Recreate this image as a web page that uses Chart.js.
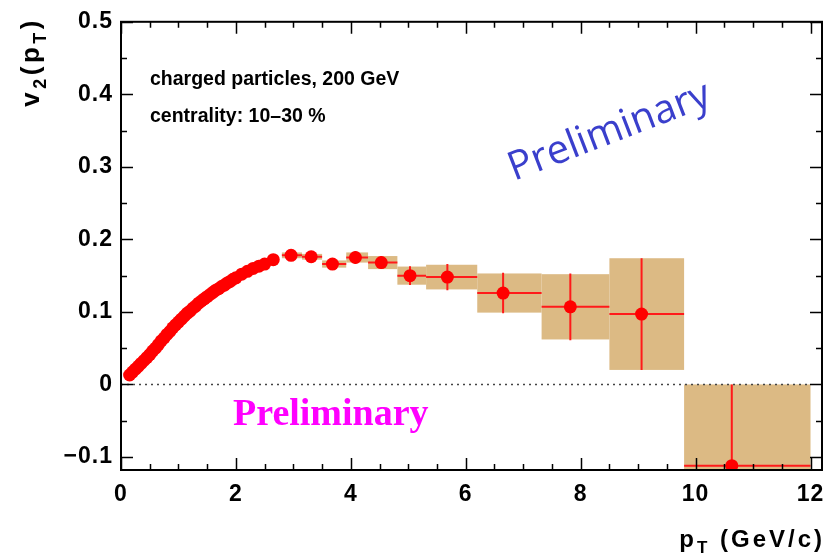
<!DOCTYPE html>
<html>
<head>
<meta charset="utf-8">
<script src="https://cdn.jsdelivr.net/npm/chart.js@4"></script>
<style>
  html, body { margin: 0; padding: 0; background: #fff; }
  canvas { display: block; }
</style>
</head>
<body>
<canvas id="myChart" width="838" height="560"></canvas>
<script>
// v2(pT) charged particles 200 GeV, 10-30 %

// low pT, dense points
const ptLow = [0.15, 0.2, 0.25, 0.3, 0.35, 0.4, 0.45, 0.5, 0.55, 0.6, 0.65, 0.7, 0.75, 0.8, 0.85, 0.9,
  0.95, 1.0, 1.05, 1.1, 1.15, 1.2, 1.25, 1.3, 1.35, 1.4, 1.45, 1.5, 1.55, 1.6, 1.65, 1.7, 1.75,
  1.8, 1.85, 1.9, 1.95, 2.0, 2.1, 2.2, 2.3, 2.4, 2.5, 2.65]
const v2Low = [0.013, 0.017, 0.021, 0.025, 0.029, 0.033, 0.037, 0.041, 0.046, 0.050, 0.055, 0.060, 0.064,
  0.069, 0.073, 0.078, 0.082, 0.086, 0.090, 0.094, 0.098, 0.101, 0.105, 0.108, 0.112, 0.115, 0.118,
  0.121, 0.124, 0.127, 0.130, 0.132, 0.135, 0.137, 0.140, 0.142, 0.145, 0.147, 0.152, 0.156, 0.160,
  0.163, 0.166, 0.172]

// high pT, with bins, stat and sys errors
const ptHigh = [2.96, 3.31, 3.68, 4.08, 4.53, 5.03, 5.68, 6.65, 7.82, 9.06, 10.63]
const v2High = [0.178, 0.176, 0.166, 0.175, 0.168, 0.150, 0.148, 0.126, 0.107, 0.097, -0.112]
const binLo = [2.8, 3.15, 3.5, 3.92, 4.3, 4.81, 5.31, 6.2, 7.32, 8.5, 9.8]
const binHi = [3.15, 3.5, 3.92, 4.3, 4.81, 5.31, 6.2, 7.32, 8.5, 9.8, 12.0]
const statErr = [0.004, 0.004, 0.005, 0.009, 0.009, 0.013, 0.018, 0.028, 0.046, 0.077, 0.112]
const sysErr = [0.004, 0.004, 0.005, 0.007, 0.009, 0.0125, 0.017, 0.027, 0.045, 0.077, 0.112]

const xTicks = [0, 2, 4, 6, 8, 10, 12]
const yTicks = [-0.1, 0, 0.1, 0.2, 0.3, 0.4, 0.5]

const FONT = "'Liberation Sans', Arial, sans-serif"

// boxes + error bars
const errorBars = {
  id: "errorBars",
  beforeDatasetsDraw(chart) {
    const {ctx, chartArea: a, scales: {x, y}} = chart
    ctx.save()
    ctx.beginPath()
    ctx.rect(a.left, a.top, a.right - a.left, a.bottom - a.top)
    ctx.clip()
    ctx.fillStyle = "#dcba84"
    for (let i = 0; i < ptHigh.length; i++) {
      let x0 = x.getPixelForValue(binLo[i])
      let x1 = x.getPixelForValue(binHi[i])
      let y0 = y.getPixelForValue(v2High[i] + sysErr[i])
      let y1 = y.getPixelForValue(v2High[i] - sysErr[i])
      ctx.fillRect(x0, y0, x1 - x0, y1 - y0)
    }
    ctx.strokeStyle = "#ff1a1a"
    ctx.lineWidth = 2
    for (let i = 0; i < ptHigh.length; i++) {
      let px = x.getPixelForValue(ptHigh[i])
      let py = y.getPixelForValue(v2High[i])
      ctx.beginPath()
      ctx.moveTo(x.getPixelForValue(binLo[i]), py)
      ctx.lineTo(x.getPixelForValue(binHi[i]), py)
      ctx.moveTo(px, y.getPixelForValue(v2High[i] + statErr[i]))
      ctx.lineTo(px, y.getPixelForValue(v2High[i] - statErr[i]))
      ctx.stroke()
    }
    ctx.restore()
  }
}

// ROOT style frame, inner ticks, titles and labels
const frameAndText = {
  id: "frameAndText",
  beforeDraw(chart) {
    chart.ctx.letterSpacing = "1px"
  },
  afterDraw(chart) {
    const {ctx, chartArea: a, scales: {x, y}} = chart
    ctx.save()
    ctx.strokeStyle = "#000"
    ctx.lineWidth = 2
    ctx.strokeRect(a.left, a.top, a.right - a.left, a.bottom - a.top)
    ctx.lineWidth = 1.5
    ctx.beginPath()
    for (let v = -0.1; v <= 0.5001; v += 0.05) {
      let py = Math.round(y.getPixelForValue(v)) + 0.5
      let major = Math.abs(v * 10 - Math.round(v * 10)) < 0.01
      let len = major ? 12 : 6
      ctx.moveTo(a.left, py); ctx.lineTo(a.left + len, py)
      ctx.moveTo(a.right, py); ctx.lineTo(a.right - len, py)
    }
    for (let v = 0; v <= 12.0001; v += 0.5) {
      let px = Math.round(x.getPixelForValue(v)) + 0.5
      let major = Math.abs(v / 2 - Math.round(v / 2)) < 0.01
      let len = major ? 12 : 6
      ctx.moveTo(px, a.bottom); ctx.lineTo(px, a.bottom - len)
      ctx.moveTo(px, a.top); ctx.lineTo(px, a.top + len)
    }
    ctx.stroke()

    // annotations
    ctx.fillStyle = "#000"
    ctx.letterSpacing = "0px"
    ctx.font = "bold 19.5px " + FONT
    ctx.textAlign = "left"
    ctx.textBaseline = "alphabetic"
    ctx.fillText("charged particles, 200 GeV", 150, 85)
    ctx.fillText("centrality: 10\u201330 %", 150, 122)

    ctx.fillStyle = "#ff00ff"
    ctx.font = "bold 38px 'Liberation Serif', 'Times New Roman', serif"
    ctx.fillText("Preliminary", 233, 425)

    ctx.save()
    ctx.translate(514, 181)
    ctx.rotate(-21 * Math.PI / 180)
    ctx.fillStyle = "#3a3fcc"
    ctx.font = "40px 'Open Sans', sans-serif"
    ctx.fillText("Preliminary", 0, 0)
    ctx.restore()

    // axis titles
    ctx.fillStyle = "#000"
    ctx.letterSpacing = "3px"
    const xt = [["p", 24, 0], ["T", 17, 6], [" (GeV/c)", 24, 0]]
    drawParts(ctx, xt, 825, 547)

    ctx.save()
    ctx.translate(39, 17)
    ctx.rotate(-Math.PI / 2)
    ctx.letterSpacing = "3.5px"
    const yt = [["v", 26, 0], ["2", 18, 7], ["(p", 26, 0], ["T", 18, 7], [")", 26, 0]]
    drawParts(ctx, yt, 0, 0)
    ctx.restore()
    ctx.restore()
  }
}

// right aligned text with subscripts
function drawParts(ctx, parts, xEnd, yBase) {
  let total = 0
  for (const p of parts) {
    ctx.font = "bold " + p[1] + "px " + FONT
    total += ctx.measureText(p[0]).width
  }
  let cx = xEnd - total
  ctx.textAlign = "left"
  for (const p of parts) {
    ctx.font = "bold " + p[1] + "px " + FONT
    ctx.fillText(p[0], cx, yBase + p[2])
    cx += ctx.measureText(p[0]).width
  }
}

let ctx = document.getElementById("myChart").getContext("2d")

let myChart = new Chart(ctx, {
  type: "scatter",
  data: {
    datasets: [
      {
        label: "cero",
        type: "line",
        data: [{x: 0, y: 0}, {x: 12, y: 0}],
        borderColor: "#444",
        borderWidth: 1.5,
        borderDash: [2, 4],
        pointRadius: 0,
        order: 3
      },
      {
        label: "bajo pT",
        data: ptLow.map((p, i) => ({x: p, y: v2Low[i]})),
        backgroundColor: "#ff0000",
        borderColor: "#ff0000",
        pointRadius: 6.5,
        borderWidth: 0,
        order: 2
      },
      {
        label: "alto pT",
        data: ptHigh.map((p, i) => ({x: p, y: v2High[i]})),
        backgroundColor: "#ff0000",
        borderColor: "#ff0000",
        pointRadius: 6.5,
        borderWidth: 0,
        order: 1
      }
    ]
  },
  options: {
    responsive: false,
    animation: false,
    devicePixelRatio: 1,
    layout: {padding: {left: 0, top: 14, right: 16, bottom: 0}},
    plugins: {legend: {display: false}, tooltip: {enabled: false}},
    scales: {
      x: {
        type: "linear",
        min: 0,
        max: 12.2,
        afterFit: (s) => { s.height = 90 },
        afterBuildTicks: (s) => { s.ticks = xTicks.map(v => ({value: v})) },
        ticks: {
          padding: 11,
          color: "#000",
          font: {family: FONT, size: 23, weight: "bold"},
          maxRotation: 0,
          callback: (v) => String(v)
        },
        grid: {display: false, drawTicks: false},
        border: {display: false}
      },
      y: {
        type: "linear",
        min: -0.118,
        max: 0.5,
        afterFit: (s) => { s.width = 121 },
        afterBuildTicks: (s) => { s.ticks = yTicks.map(v => ({value: v})) },
        ticks: {
          padding: 8,
          color: "#000",
          font: {family: FONT, size: 23, weight: "bold"},
          callback: (v) => v === 0 ? "0" : v.toFixed(1).replace("-", "\u2212")
        },
        grid: {display: false, drawTicks: false},
        border: {display: false}
      }
    }
  },
  plugins: [errorBars, frameAndText]
})
</script>
</body>
</html>
